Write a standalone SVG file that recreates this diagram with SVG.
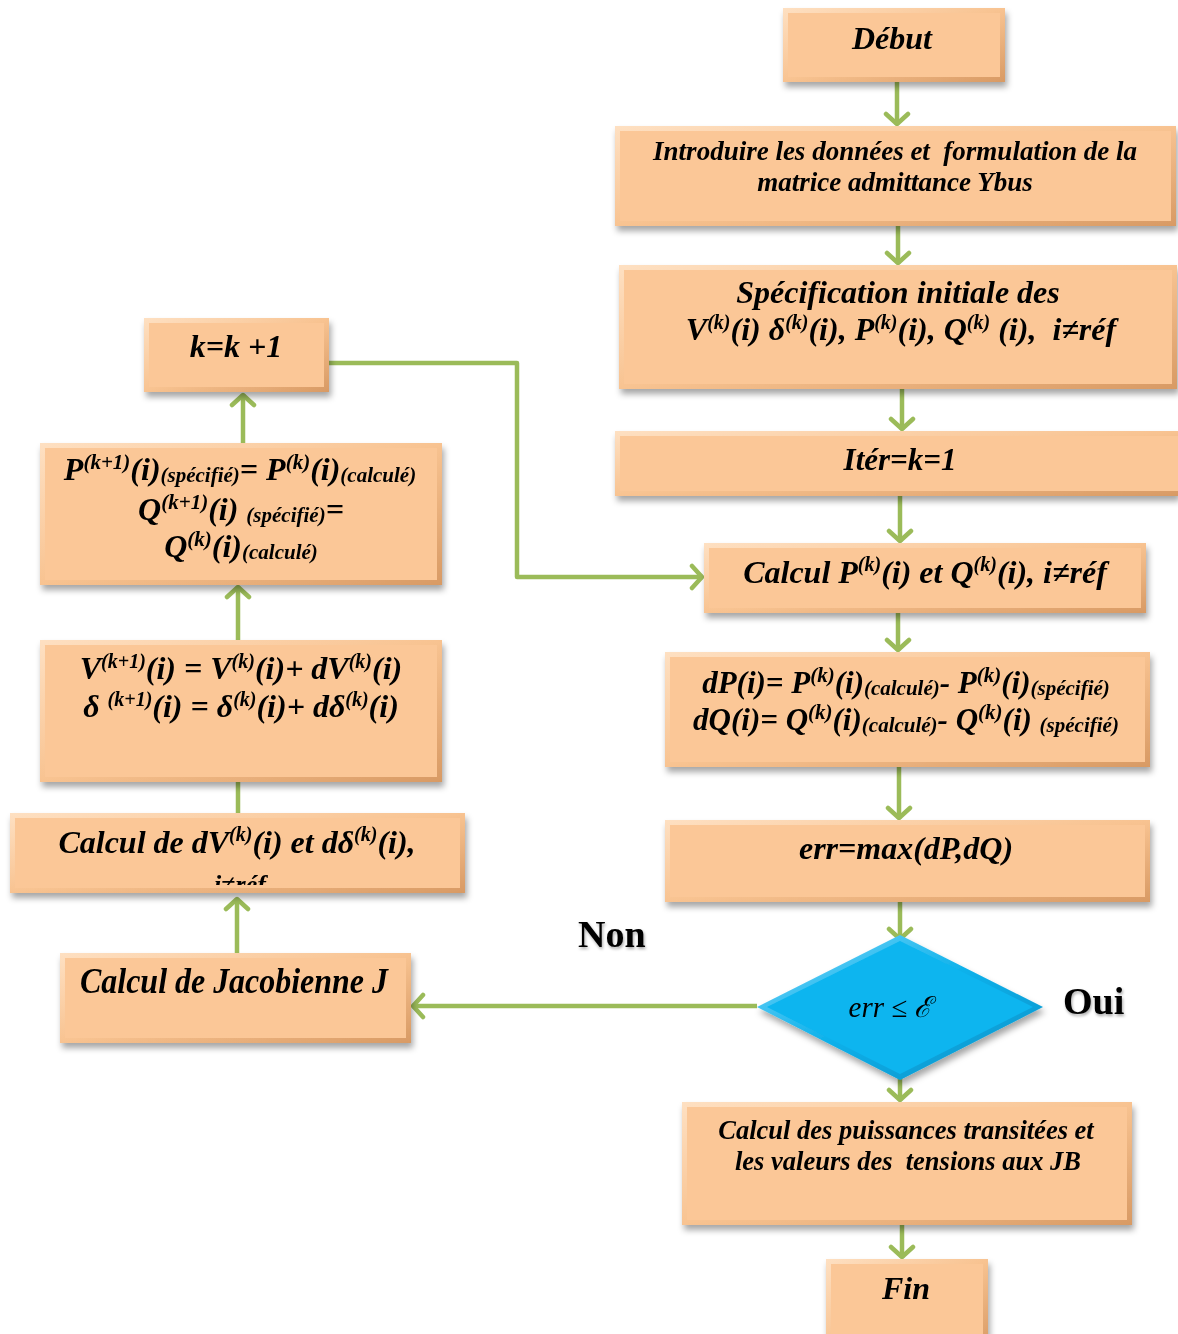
<svg xmlns="http://www.w3.org/2000/svg" width="1178" height="1334" viewBox="0 0 1178 1334">
<defs>
<linearGradient id="bev" x1="0" y1="0" x2="1" y2="1">
<stop offset="0" stop-color="#FEE0C2"/>
<stop offset="0.5" stop-color="#F8C391"/>
<stop offset="1" stop-color="#D89A64"/>
</linearGradient>
<linearGradient id="bevd" x1="0" y1="0" x2="1" y2="1">
<stop offset="0" stop-color="#7FD8FA"/>
<stop offset="0.5" stop-color="#0AB0EA"/>
<stop offset="1" stop-color="#0790C6"/>
</linearGradient>
<filter id="sh" x="-10%" y="-20%" width="120%" height="150%">
<feDropShadow dx="2" dy="5" stdDeviation="3" flood-color="#000" flood-opacity="0.35"/>
</filter>
<filter id="tsh" x="-10%" y="-20%" width="130%" height="150%">
<feDropShadow dx="1" dy="2" stdDeviation="1.5" flood-color="#000" flood-opacity="0.35"/>
</filter>
<marker id="ar" markerUnits="userSpaceOnUse" viewBox="-14 -14 16 28" refX="0" refY="0" markerWidth="16" markerHeight="28" orient="auto">
<path d="M-11,-11 L-1,0 L-11,11" fill="none" stroke="#9BBB59" stroke-width="4.5" stroke-linecap="round" stroke-linejoin="round"/>
</marker>
<clipPath id="clipdv"><rect x="10" y="813" width="455" height="72"/></clipPath>
<style>
.bo{fill:url(#bev)}
.bi{fill:#FBC797}
.t{font-family:"Liberation Serif","Times New Roman",serif;font-weight:bold;font-style:italic;fill:#000;text-anchor:middle}
.c{fill:none;stroke:#9BBB59;stroke-width:4.5;stroke-linejoin:round}
.lb{font-family:"Liberation Serif","Times New Roman",serif;font-weight:bold;fill:#000;font-size:38px}
</style>
</defs>

<g id="connectors">
<line class="c" x1="897" y1="82" x2="897" y2="125" marker-end="url(#ar)"/>
<line class="c" x1="898" y1="226" x2="898" y2="264" marker-end="url(#ar)"/>
<line class="c" x1="902" y1="389" x2="902" y2="430" marker-end="url(#ar)"/>
<line class="c" x1="900" y1="496" x2="900" y2="542" marker-end="url(#ar)"/>
<line class="c" x1="898" y1="613" x2="898" y2="651" marker-end="url(#ar)"/>
<line class="c" x1="899" y1="767" x2="899" y2="819" marker-end="url(#ar)"/>
<line class="c" x1="900" y1="902" x2="900" y2="940" marker-end="url(#ar)"/>
<line class="c" x1="900" y1="1078" x2="900" y2="1101" marker-end="url(#ar)"/>
<line class="c" x1="902" y1="1225" x2="902" y2="1258" marker-end="url(#ar)"/>
<line class="c" x1="757" y1="1006" x2="412" y2="1006" marker-end="url(#ar)"/>
<line class="c" x1="237" y1="953" x2="237" y2="898" marker-end="url(#ar)"/>
<line class="c" x1="238" y1="813" x2="238" y2="782"/>
<line class="c" x1="238" y1="640" x2="238" y2="586" marker-end="url(#ar)"/>
<line class="c" x1="243" y1="443" x2="243" y2="394" marker-end="url(#ar)"/>
<polyline class="c" points="329,363 517,363 517,577 703,577" marker-end="url(#ar)"/>
</g>

<g id="debut" filter="url(#sh)">
<rect class="bo" x="783" y="8" width="222" height="74"/>
<rect class="bi" x="788" y="13" width="212" height="64"/>
<text class="t" x="892" y="49" font-size="32">Début</text>
</g>

<g id="introduire" filter="url(#sh)">
<rect class="bo" x="615" y="126" width="561" height="100"/>
<rect class="bi" x="620" y="131" width="551" height="90"/>
<text class="t" x="895" y="160" font-size="27" xml:space="preserve">Introduire les données et  formulation de la</text>
<text class="t" x="895" y="191" font-size="27">matrice admittance Ybus</text>
</g>

<g id="specification" filter="url(#sh)">
<rect class="bo" x="619" y="265" width="558" height="124"/>
<rect class="bi" x="624" y="270" width="548" height="114"/>
<text class="t" x="898" y="303" font-size="32">Spécification initiale des</text>
<text class="t" x="901" y="340" font-size="32" xml:space="preserve">V<tspan font-size="20" dy="-11">(k)</tspan><tspan dy="11">(i) δ</tspan><tspan font-size="20" dy="-11">(k)</tspan><tspan dy="11">(i), P</tspan><tspan font-size="20" dy="-11">(k)</tspan><tspan dy="11">(i), Q</tspan><tspan font-size="20" dy="-11">(k)</tspan><tspan dy="11"> (i),  i≠réf</tspan></text>
</g>

<g id="iter" filter="url(#sh)">
<rect class="bo" x="615" y="431" width="563" height="65"/>
<rect class="bi" x="620" y="436" width="558" height="55"/>
<text class="t" x="900" y="470" font-size="31">Itér=k=1</text>
</g>

<g id="calculPQ" filter="url(#sh)">
<rect class="bo" x="704" y="543" width="442" height="70"/>
<rect class="bi" x="709" y="548" width="432" height="60"/>
<text class="t" x="925" y="583" font-size="32">Calcul P<tspan font-size="20" dy="-12">(k)</tspan><tspan dy="12">(i) et Q</tspan><tspan font-size="20" dy="-12">(k)</tspan><tspan dy="12">(i), i≠réf</tspan></text>
</g>

<g id="dPdQ" filter="url(#sh)">
<rect class="bo" x="665" y="652" width="485" height="115"/>
<rect class="bi" x="670" y="657" width="475" height="105"/>
<text class="t" x="906" y="693" font-size="31">dP(i)= P<tspan font-size="21" dy="-11">(k)</tspan><tspan dy="11">(i)</tspan><tspan font-size="21" dy="2">(calculé)</tspan><tspan dy="-2">- P</tspan><tspan font-size="21" dy="-11">(k)</tspan><tspan dy="11">(i)</tspan><tspan font-size="21" dy="2">(spécifié)</tspan></text>
<text class="t" x="906" y="730" font-size="31">dQ(i)= Q<tspan font-size="21" dy="-11">(k)</tspan><tspan dy="11">(i)</tspan><tspan font-size="21" dy="2">(calculé)</tspan><tspan dy="-2">- Q</tspan><tspan font-size="21" dy="-11">(k)</tspan><tspan dy="11">(i) </tspan><tspan font-size="21" dy="2">(spécifié)</tspan></text>
</g>

<g id="err" filter="url(#sh)">
<rect class="bo" x="665" y="820" width="485" height="82"/>
<rect class="bi" x="670" y="825" width="475" height="72"/>
<text class="t" x="906" y="859" font-size="32">err=max(dP,dQ)</text>
</g>

<g id="decision" filter="url(#sh)">
<polygon points="900,935 1043,1007 900,1080 757,1007" fill="url(#bevd)"/>
<polygon points="900,941 1033,1007 900,1074 767,1007" fill="#0BB5EF"/>
<text x="890" y="1017" font-family="Liberation Serif, Times New Roman, serif" font-style="italic" font-size="29" text-anchor="middle" fill="#000">err ≤ ℰ</text>
</g>

<g id="puissances" filter="url(#sh)">
<rect class="bo" x="682" y="1102" width="450" height="123"/>
<rect class="bi" x="687" y="1107" width="440" height="113"/>
<text class="t" x="906" y="1139" font-size="26.5">Calcul des puissances transitées et</text>
<text class="t" x="908" y="1170" font-size="26.5" xml:space="preserve">les valeurs des  tensions aux JB</text>
</g>

<g id="fin" filter="url(#sh)">
<rect class="bo" x="826" y="1259" width="162" height="90"/>
<rect class="bi" x="831" y="1264" width="152" height="80"/>
<text class="t" x="906" y="1299" font-size="32">Fin</text>
</g>

<g id="kplus" filter="url(#sh)">
<rect class="bo" x="144" y="318" width="185" height="74"/>
<rect class="bi" x="149" y="323" width="175" height="64"/>
<text class="t" x="236" y="357" font-size="32">k=k +1</text>
</g>

<g id="miseajour" filter="url(#sh)">
<rect class="bo" x="40" y="443" width="402" height="142"/>
<rect class="bi" x="45" y="448" width="392" height="132"/>
<text class="t" x="240" y="480" font-size="32">P<tspan font-size="21" dy="-11">(k+1)</tspan><tspan dy="11">(i)</tspan><tspan font-size="21" dy="2">(spécifié)</tspan><tspan dy="-2">= P</tspan><tspan font-size="21" dy="-11">(k)</tspan><tspan dy="11">(i)</tspan><tspan font-size="21" dy="2">(calculé)</tspan></text>
<text class="t" x="241" y="520" font-size="32">Q<tspan font-size="21" dy="-11">(k+1)</tspan><tspan dy="11">(i) </tspan><tspan font-size="21" dy="2">(spécifié)</tspan><tspan dy="-2">=</tspan></text>
<text class="t" x="241" y="557" font-size="32">Q<tspan font-size="21" dy="-11">(k)</tspan><tspan dy="11">(i)</tspan><tspan font-size="21" dy="2">(calculé)</tspan></text>
</g>

<g id="nouvelles" filter="url(#sh)">
<rect class="bo" x="40" y="640" width="402" height="142"/>
<rect class="bi" x="45" y="645" width="392" height="132"/>
<text class="t" x="241" y="679" font-size="32">V<tspan font-size="20" dy="-11">(k+1)</tspan><tspan dy="11">(i) = V</tspan><tspan font-size="20" dy="-11">(k)</tspan><tspan dy="11">(i)+ dV</tspan><tspan font-size="20" dy="-11">(k)</tspan><tspan dy="11">(i)</tspan></text>
<text class="t" x="241" y="717" font-size="32">δ <tspan font-size="20" dy="-11">(k+1)</tspan><tspan dy="11">(i) = δ</tspan><tspan font-size="20" dy="-11">(k)</tspan><tspan dy="11">(i)+ dδ</tspan><tspan font-size="20" dy="-11">(k)</tspan><tspan dy="11">(i)</tspan></text>
</g>

<g id="calculdV" filter="url(#sh)">
<rect class="bo" x="10" y="813" width="455" height="80"/>
<rect class="bi" x="15" y="818" width="445" height="70"/>
<text class="t" x="237" y="853" font-size="32">Calcul de dV<tspan font-size="20" dy="-12">(k)</tspan><tspan dy="12">(i) et dδ</tspan><tspan font-size="20" dy="-12">(k)</tspan><tspan dy="12">(i),</tspan></text>
<text class="t" x="240" y="893" font-size="26" clip-path="url(#clipdv)">i≠réf</text>
</g>

<g id="jacobienne" filter="url(#sh)">
<rect class="bo" x="60" y="953" width="351" height="90"/>
<rect class="bi" x="65" y="958" width="341" height="80"/>
<text class="t" x="234" y="993" font-size="35" textLength="308" lengthAdjust="spacingAndGlyphs">Calcul de Jacobienne J</text>
</g>

<g id="labels" filter="url(#tsh)">
<text class="lb" x="578" y="947">Non</text>
<text class="lb" x="1063" y="1014">Oui</text>
</g>
</svg>
